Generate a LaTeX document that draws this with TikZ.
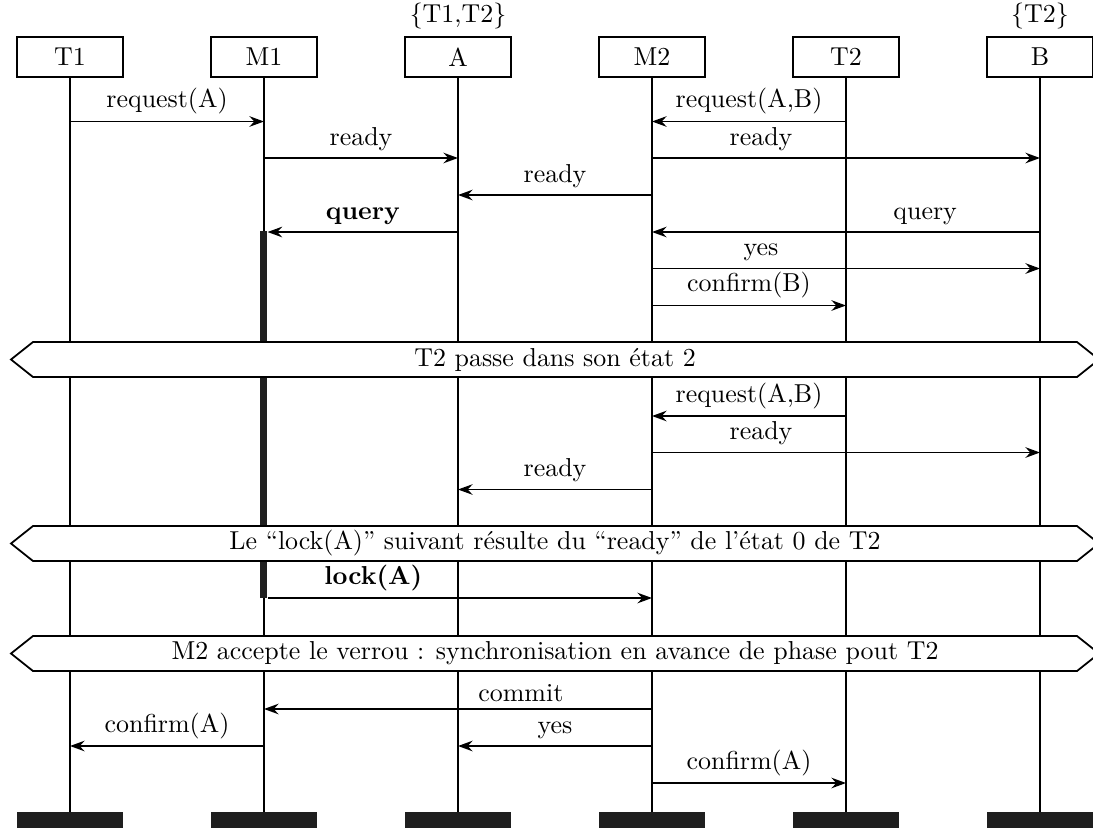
\documentclass[tikz,border=0pt]{standalone}
\usetikzlibrary{arrows.meta}
\begin{document}
\begin{tikzpicture}[x=0.3953pt,y=-0.3953pt,
  every node/.style={font=\fontsize{10.25pt}{12pt}\selectfont},
  inst/.style={draw, line width=0.7pt, minimum width=41.9pt, minimum height=15.8pt, inner sep=0pt},
  endbar/.style={fill=black!88, minimum width=41.9pt, minimum height=6.3pt, inner sep=0pt},
  actbar/.style={fill=black!88, minimum width=2.8pt, minimum height=144.9pt, inner sep=0pt},
  life/.style={line width=0.7pt},
  msg/.style={line width=0.7pt, -{Stealth[length=5.8pt,width=4.2pt,inset=2pt]}},
  lbl/.style={above, inner sep=2.6pt},
  banner/.style={draw, fill=white, line width=0.7pt},
  gate/.style={above, inner sep=2.5pt}]
\useasboundingbox (0,0) rectangle (1093,830);
% instance heads
\node[inst] (t1) at (70,57) {T1};
\node[inst] (m1) at (264,57) {M1};
\node[inst] (a)  at (458,57) {A};
\node[inst] (m2) at (652,57) {M2};
\node[inst] (t2) at (846,57) {T2};
\node[inst] (b)  at (1040,57) {B};
\node[gate] (ga) at (a.north) {\{T1,T2\}};
\node[gate] (gb) at (b.north) {\{T2\}};
% instance ends
\node[endbar] (t1e) at (70,820) {};
\node[endbar] (m1e) at (264,820) {};
\node[endbar] (ae)  at (458,820) {};
\node[endbar] (m2e) at (652,820) {};
\node[endbar] (t2e) at (846,820) {};
\node[endbar] (be)  at (1040,820) {};
% lifelines
\draw[life] (t1) -- (t1e);
\draw[life] (m1) -- (m1e);
\draw[life] (a) -- (ae);
\draw[life] (m2) -- (m2e);
\draw[life] (t2) -- (t2e);
\draw[life] (b) -- (be);
% activation bar on M1
\node[actbar] (act) at (263.5,414.75) {};
% rows
\coordinate (r1) at (0,121.5);
\coordinate (r2) at (0,158);
\coordinate (r3) at (0,195);
\coordinate (r4) at (0,232);
\coordinate (r5) at (0,268.5);
\coordinate (r6) at (0,305.5);
\coordinate (r7) at (0,416);
\coordinate (r8) at (0,452.5);
\coordinate (r9) at (0,489.5);
\coordinate (r10) at (0,598);
\coordinate (r11) at (0,709);
\coordinate (r12) at (0,746);
\coordinate (r13) at (0,783);
% messages
\draw[msg] (t1 |- r1) -- node[lbl] {request(A)} (m1 |- r1);
\draw[msg] (t2 |- r1) -- node[lbl] {request(A,B)} (m2 |- r1);
\draw[msg] (m1 |- r2) -- node[lbl] {ready} (a |- r2);
\draw[msg] (m2 |- r2) -- node[lbl,pos=0.281] {ready} (b |- r2);
\draw[msg] (m2 |- r3) -- node[lbl] {ready} (a |- r3);
\draw[msg] (a |- r4) -- node[lbl] {\textbf{query}} (act.east |- r4);
\draw[msg] (b |- r4) -- node[lbl,pos=0.296] {query} (m2 |- r4);
\draw[msg] (m2 |- r5) -- node[lbl,pos=0.281] {yes} (b |- r5);
\draw[msg] (m2 |- r6) -- node[lbl] {confirm(B)} (t2 |- r6);
\draw[msg] (t2 |- r7) -- node[lbl] {request(A,B)} (m2 |- r7);
\draw[msg] (m2 |- r8) -- node[lbl,pos=0.281] {ready} (b |- r8);
\draw[msg] (m2 |- r9) -- node[lbl] {ready} (a |- r9);
\draw[msg] (act.east |- r10) -- node[lbl,pos=0.275] {\textbf{lock(A)}} (m2 |- r10);
\draw[msg] (m2 |- r11) -- node[lbl,pos=0.338] {commit} (m1 |- r11);
\draw[msg] (m1 |- r12) -- node[lbl] {confirm(A)} (t1 |- r12);
\draw[msg] (m2 |- r12) -- node[lbl] {yes} (a |- r12);
\draw[msg] (m2 |- r13) -- node[lbl] {confirm(A)} (t2 |- r13);
% banners
\draw[banner] (11,359.5) -- (33,342) -- (1077,342) -- (1099,359.5) -- (1077,377) -- (33,377) -- cycle;
\node (n1) at (555,359.5) {T2 passe dans son état 2};
\draw[banner] (11,543.5) -- (33,526) -- (1077,526) -- (1099,543.5) -- (1077,561) -- (33,561) -- cycle;
\node (n2) at (555,543.5) {Le “lock(A)” suivant résulte du “ready” de l’état 0 de T2};
\draw[banner] (11,653.5) -- (33,636) -- (1077,636) -- (1099,653.5) -- (1077,671) -- (33,671) -- cycle;
\node (n3) at (555,653.5) {M2 accepte le verrou : synchronisation en avance de phase pout T2};
\end{tikzpicture}
\end{document}
